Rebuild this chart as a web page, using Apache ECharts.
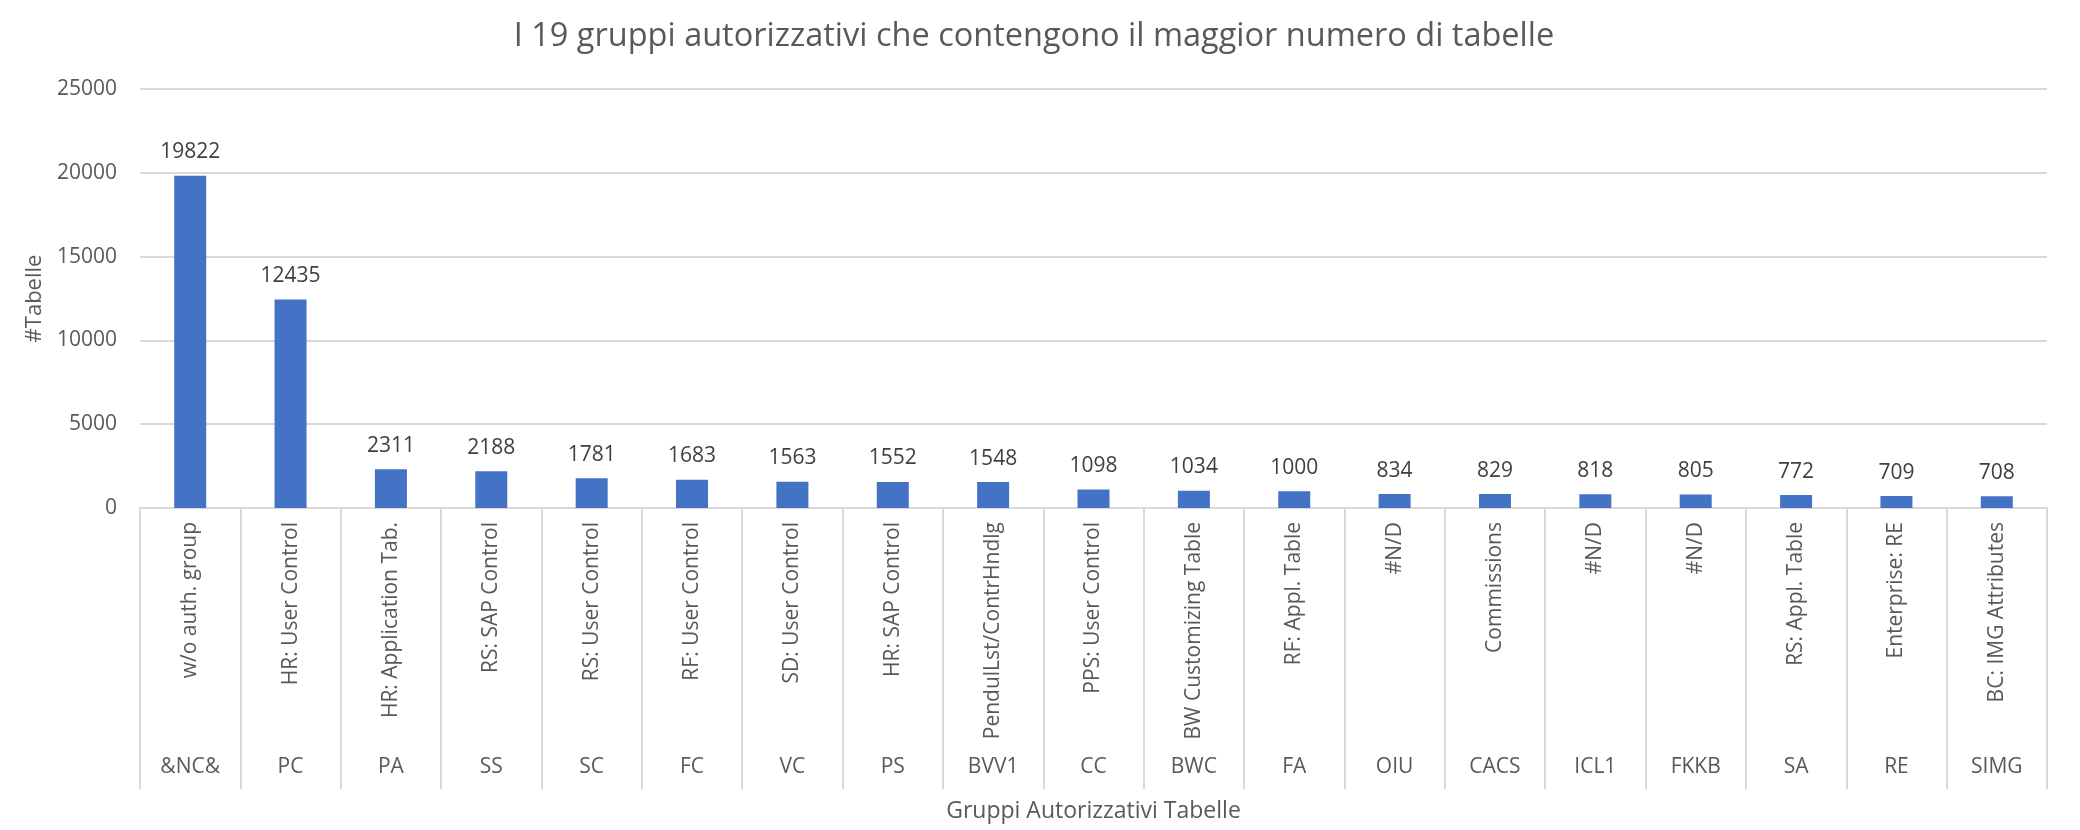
<!DOCTYPE html>
<html><head><meta charset="utf-8">
<script src="https://cdn.jsdelivr.net/npm/echarts@6/dist/echarts.min.js"></script>
<style>html,body{margin:0;padding:0;background:#fff}#c{width:2080px;height:830px}</style>
</head><body><div id="c"></div>
<script>
const codes = ['&NC&','PC','PA','SS','SC','FC','VC','PS','BVV1','CC','BWC','FA','OIU','CACS','ICL1','FKKB','SA','RE','SIMG'];
const descriptions = ['w/o auth. group','HR: User Control','HR: Application Tab.','RS: SAP Control','RS: User Control','RF: User Control','SD: User Control','HR: SAP Control','PendulLst/ContrHndlg','PPS: User Control','BW Customizing Table','RF: Appl. Table','#N/D','Commissions','#N/D','#N/D','RS: Appl. Table','Enterprise: RE','BC: IMG Attributes'];
const values = [19822,12435,2311,2188,1781,1683,1563,1552,1548,1098,1034,1000,834,829,818,805,772,709,708];
const yTicks = {min:0, max:25000, interval:5000};

const FONT = '"Open Sans", sans-serif';
const chart = echarts.init(document.getElementById('c'));
chart.setOption({
  animation:false,
  backgroundColor:'#fff',
  title:{text:'I 19 gruppi autorizzativi che contengono il maggior numero di tabelle', left:1029, textAlign:'center', top:15,
    textStyle:{fontFamily:FONT, fontSize:32.5, fontWeight:'normal', color:'#595959'}},
  grid:{left:140, right:33, top:89, bottom:322},
  xAxis:[{
    type:'category', position:'bottom', data:descriptions,
    axisLine:{lineStyle:{color:'#d9d9d9', width:2}},
    axisTick:{show:true, length:281, lineStyle:{color:'#d9d9d9', width:2}},
    axisLabel:{rotate:90, margin:14, interval:0, fontFamily:FONT, fontSize:21, color:'#595959'}
  },{
    type:'category', position:'bottom', offset:0, data:codes,
    axisLine:{show:false}, axisTick:{show:false},
    axisLabel:{margin:249, interval:0, fontFamily:FONT, fontSize:21, color:'#595959'},
    name:'Gruppi Autorizzativi Tabelle', nameLocation:'middle', nameGap:292,
    nameTextStyle:{fontFamily:FONT, fontSize:23, color:'#595959'}
  }],
  yAxis:{type:'value', min:yTicks.min, max:yTicks.max, interval:yTicks.interval,
    name:'#Tabelle', nameLocation:'middle', nameGap:94,
    nameTextStyle:{fontFamily:FONT, fontSize:22, color:'#595959'},
    axisLine:{show:false}, axisTick:{show:false},
    axisLabel:{margin:23, fontFamily:FONT, fontSize:21, color:'#595959', formatter:v=>String(v)},
    splitLine:{lineStyle:{color:'#d9d9d9', width:2}}
  },
  series:[{type:'bar', data:values, barWidth:32, xAxisIndex:0,
    itemStyle:{color:'#4472C4'},
    label:{show:true, position:'top', distance:13, fontFamily:FONT, fontSize:21, color:'#404040'}
  }]
});
</script></body></html>
